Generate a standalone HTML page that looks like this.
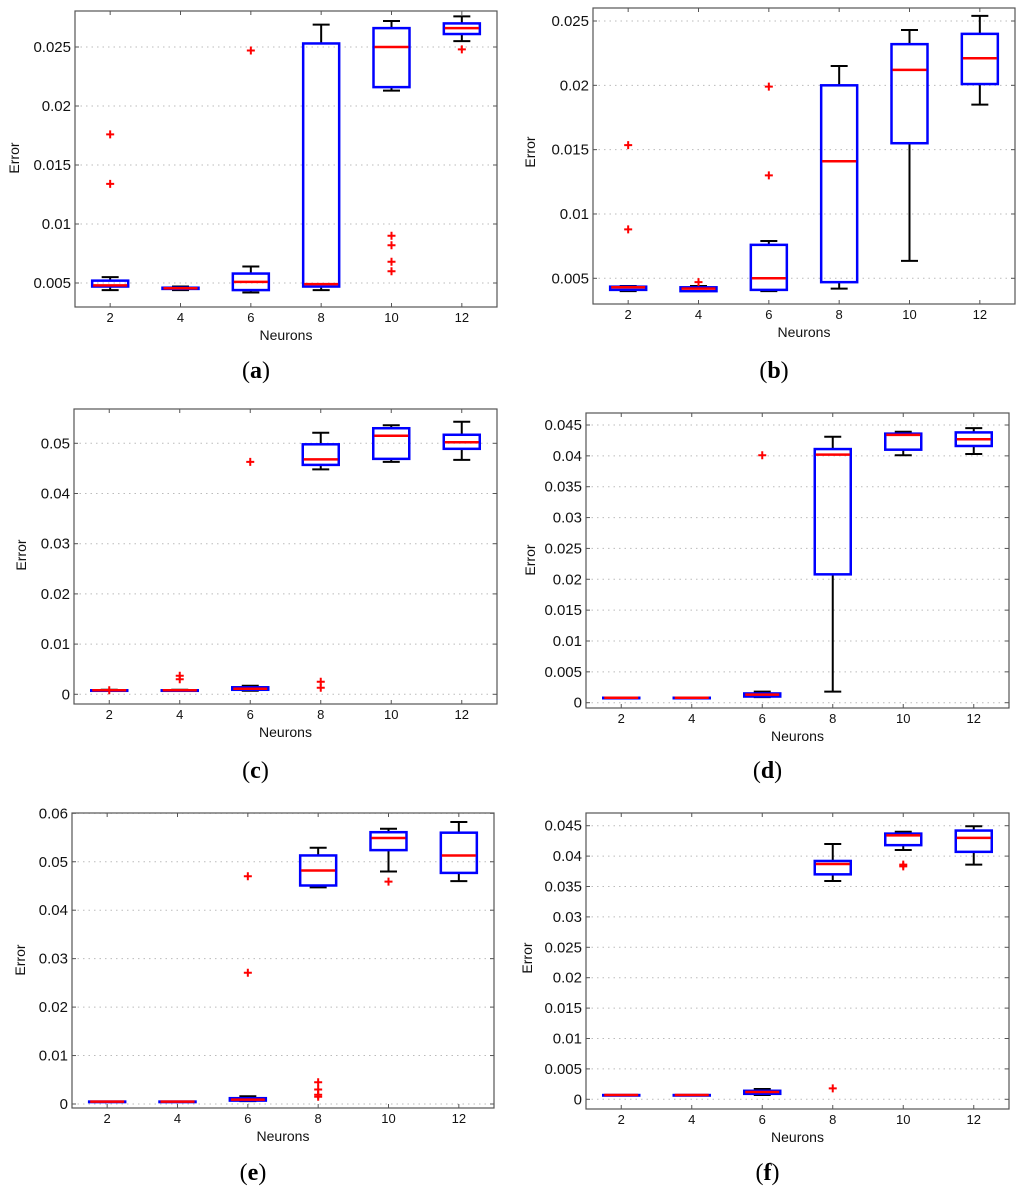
<!DOCTYPE html>
<html><head><meta charset="utf-8"><style>
html,body{margin:0;padding:0;background:#fff;}
svg{display:block;font-family:"Liberation Sans",sans-serif;}
</style></head><body>
<svg id="fig" width="1024" height="1194" viewBox="0 0 1024 1194" xmlns="http://www.w3.org/2000/svg"></svg>
<script>
const categories = ["2","4","6","8","10","12"];
// each stat: [lowWhisker, q1, median, q3, highWhisker]
const statsA = [[0.0044,0.0047,0.0048,0.0052,0.0055],[0.0044,0.0045,0.00455,0.0046,0.0047],[0.0042,0.0044,0.0051,0.0058,0.0064],[0.0044,0.0047,0.0049,0.0253,0.0269],[0.0213,0.0216,0.025,0.0266,0.0272],[0.0255,0.0261,0.0266,0.027,0.0276]];
const outA = [[0.0176,0.0134],[],[0.0247],[],[0.009,0.0082,0.0068,0.006],[0.0248]];
const statsB = [[0.004,0.0041,0.0043,0.00435,0.0044],[0.004,0.004,0.0042,0.0043,0.0044],[0.004,0.0041,0.005,0.0076,0.0079],[0.0042,0.0047,0.0141,0.02,0.0215],[0.00635,0.0155,0.0212,0.0232,0.0243],[0.0185,0.0201,0.0221,0.024,0.0254]];
const outB = [[0.01535,0.0088],[0.0047],[0.0199,0.013],[],[],[]];
const statsC = [[0.0007,0.0008,0.0008,0.0008,0.0009],[0.0007,0.0008,0.0008,0.0008,0.0009],[0.0007,0.0009,0.0011,0.0014,0.0017],[0.0448,0.0457,0.0468,0.0498,0.0521],[0.0463,0.0469,0.0515,0.053,0.0536],[0.0467,0.0489,0.0502,0.0517,0.0543]];
const outC = [[0.0008],[0.0037,0.003],[0.0463],[0.0025,0.0013],[],[]];
const statsD = [[0.0008,0.0008,0.0008,0.0008,0.0008],[0.0008,0.0008,0.0008,0.0008,0.0008],[0.0009,0.001,0.0013,0.0015,0.0018],[0.0018,0.0208,0.0402,0.0411,0.0431],[0.0401,0.041,0.0434,0.0436,0.0439],[0.0403,0.0416,0.0427,0.0438,0.0445]];
const outD = [[],[],[0.0401],[],[],[]];
const statsE = [[0.0005,0.0005,0.0005,0.0005,0.0005],[0.0005,0.0005,0.0005,0.0005,0.0005],[0.0006,0.0007,0.0009,0.0012,0.0016],[0.0447,0.0451,0.0482,0.0513,0.0529],[0.048,0.0524,0.0549,0.0561,0.0568],[0.046,0.0477,0.0513,0.056,0.0582]];
const outE = [[],[],[0.047,0.0271],[0.0045,0.003,0.0019,0.0015],[0.0459],[]];
const statsF = [[0.0007,0.0007,0.0007,0.0007,0.0007],[0.0007,0.0007,0.0007,0.0007,0.0007],[0.0007,0.0009,0.0012,0.0014,0.0017],[0.0359,0.037,0.0387,0.0392,0.042],[0.041,0.0418,0.0434,0.0437,0.044],[0.0386,0.0407,0.043,0.0442,0.0449]];
const outF = [[],[],[],[0.0018],[0.0386,0.0383],[]];
const ticksA = [0.005,0.01,0.015,0.02,0.025], tickLabelsA = ["0.005","0.01","0.015","0.02","0.025"];
const ticksC = [0,0.01,0.02,0.03,0.04,0.05], tickLabelsC = ["0","0.01","0.02","0.03","0.04","0.05"];
const ticksD = [0,0.005,0.01,0.015,0.02,0.025,0.03,0.035,0.04,0.045], tickLabelsD = ["0","0.005","0.01","0.015","0.02","0.025","0.03","0.035","0.04","0.045"];
const ticksE = [0,0.01,0.02,0.03,0.04,0.05,0.06], tickLabelsE = ["0","0.01","0.02","0.03","0.04","0.05","0.06"];

const NS="http://www.w3.org/2000/svg";
const svg=document.getElementById('fig');
function mk(tag,attrs,parent){const e=document.createElementNS(NS,tag);for(const k in attrs)e.setAttribute(k,attrs[k]);(parent||svg).appendChild(e);return e;}

const panels=[
 {id:'a',L:75,R:497,T:11,B:307,v1:0.005,p1:283,v2:0.025,p2:47,stats:statsA,out:outA,ticks:ticksA,tl:tickLabelsA,ex:14,ey:158,sy:370},
 {id:'b',L:593,R:1015,T:8,B:304,v1:0.005,p1:278.3,v2:0.025,p2:21,stats:statsB,out:outB,ticks:ticksA,tl:tickLabelsA,ex:530,ey:152,sy:370},
 {id:'c',L:74,R:497,T:409,B:704,v1:0,p1:694.3,v2:0.05,p2:443.3,stats:statsC,out:outC,ticks:ticksC,tl:tickLabelsC,ex:21,ey:555,sy:770},
 {id:'d',L:586,R:1009,T:413,B:708,v1:0,p1:702.7,v2:0.045,p2:425,stats:statsD,out:outD,ticks:ticksD,tl:tickLabelsD,ex:530,ey:560,sy:770},
 {id:'e',L:72,R:494,T:813,B:1108,v1:0,p1:1104,v2:0.06,p2:813.3,stats:statsE,out:outE,ticks:ticksE,tl:tickLabelsE,ex:20,ey:960,sy:1172},
 {id:'f',L:586,R:1009,T:813,B:1109,v1:0,p1:1099.3,v2:0.045,p2:825.7,stats:statsF,out:outF,ticks:ticksD,tl:tickLabelsD,ex:527,ey:958,sy:1172}
];

panels.forEach(p=>{
 const g=mk('g',{});
 
 
 const y=v=>p.p1+(v-p.v1)*(p.p2-p.p1)/(p.v2-p.v1);
 const step=(p.R-p.L)/categories.length;
 const x=i=>p.L+step*(i+0.5);
 p.ticks.forEach((t,i)=>{
  const yy=y(t);
  const gl=mk('line',{x1:p.L,x2:p.R,y1:yy,y2:yy,stroke:'#bbb','stroke-width':1,'stroke-dasharray':'1.5,4'},g);
  
  
  mk('line',{x1:p.L,x2:p.L+4,y1:yy,y2:yy,stroke:'#555'},g);
  mk('line',{x1:p.R-4,x2:p.R,y1:yy,y2:yy,stroke:'#555'},g);
  const tx=mk('text',{x:p.L-4,y:yy+5,'text-anchor':'end','font-size':15,fill:'#111'},g);
  tx.textContent=p.tl[i];
  
  
 });
 categories.forEach((c,i)=>{
  mk('line',{x1:x(i),x2:x(i),y1:p.B,y2:p.B-4,stroke:'#555'},g);
  mk('line',{x1:x(i),x2:x(i),y1:p.T,y2:p.T+4,stroke:'#555'},g);
  const tx=mk('text',{x:x(i),y:p.B+15,'text-anchor':'middle','font-size':13,fill:'#111'},g);
  tx.textContent=c;
  
  
 });
 const fr=mk('rect',{x:p.L,y:p.T,width:p.R-p.L,height:p.B-p.T,fill:'none',stroke:'#555','stroke-width':1.2},g);
 
 
 p.stats.forEach((s,i)=>{
  const cx=x(i), hw=18, cw=8.5;
  const bg=mk('g',{},g);
  
  
  mk('line',{x1:cx,x2:cx,y1:y(s[3]),y2:y(s[4]),stroke:'#000','stroke-width':2},bg);
  mk('line',{x1:cx,x2:cx,y1:y(s[1]),y2:y(s[0]),stroke:'#000','stroke-width':2},bg);
  mk('line',{x1:cx-cw,x2:cx+cw,y1:y(s[4]),y2:y(s[4]),stroke:'#000','stroke-width':2},bg);
  mk('line',{x1:cx-cw,x2:cx+cw,y1:y(s[0]),y2:y(s[0]),stroke:'#000','stroke-width':2},bg);
  mk('rect',{x:cx-hw,y:y(s[3]),width:2*hw,height:Math.max(0.5,y(s[1])-y(s[3])),fill:'none',stroke:'#0000ff','stroke-width':2.5},bg);
  mk('line',{x1:cx-hw+1,x2:cx+hw-1,y1:y(s[2]),y2:y(s[2]),stroke:'#ff0000','stroke-width':2.5},bg);
  p.out[i].forEach(o=>{
   const oy=y(o);
   const m=mk('path',{d:`M${cx-4} ${oy}H${cx+4}M${cx} ${oy-4}V${oy+4}`,stroke:'#ff0000','stroke-width':2},bg);
   
   
  });
 });
 const xl=mk('text',{x:(p.L+p.R)/2,y:p.B+33,'text-anchor':'middle','font-size':14,fill:'#111'},g);
 xl.textContent='Neurons';
 
 
 const yl=mk('text',{x:p.ex,y:p.ey,'text-anchor':'middle','font-size':14,fill:'#111',transform:`rotate(-90 ${p.ex} ${p.ey})`,dy:5},g);
 yl.textContent='Error';
 
 
 const sl=mk('text',{x:(p.L+p.R)/2-30,y:p.sy+8,'text-anchor':'middle','font-size':24,fill:'#000','font-family':'Liberation Serif, serif'},g);
 sl.innerHTML='(<tspan font-weight="bold">'+p.id+'</tspan>)';
 
 
});
</script>
</body></html>
